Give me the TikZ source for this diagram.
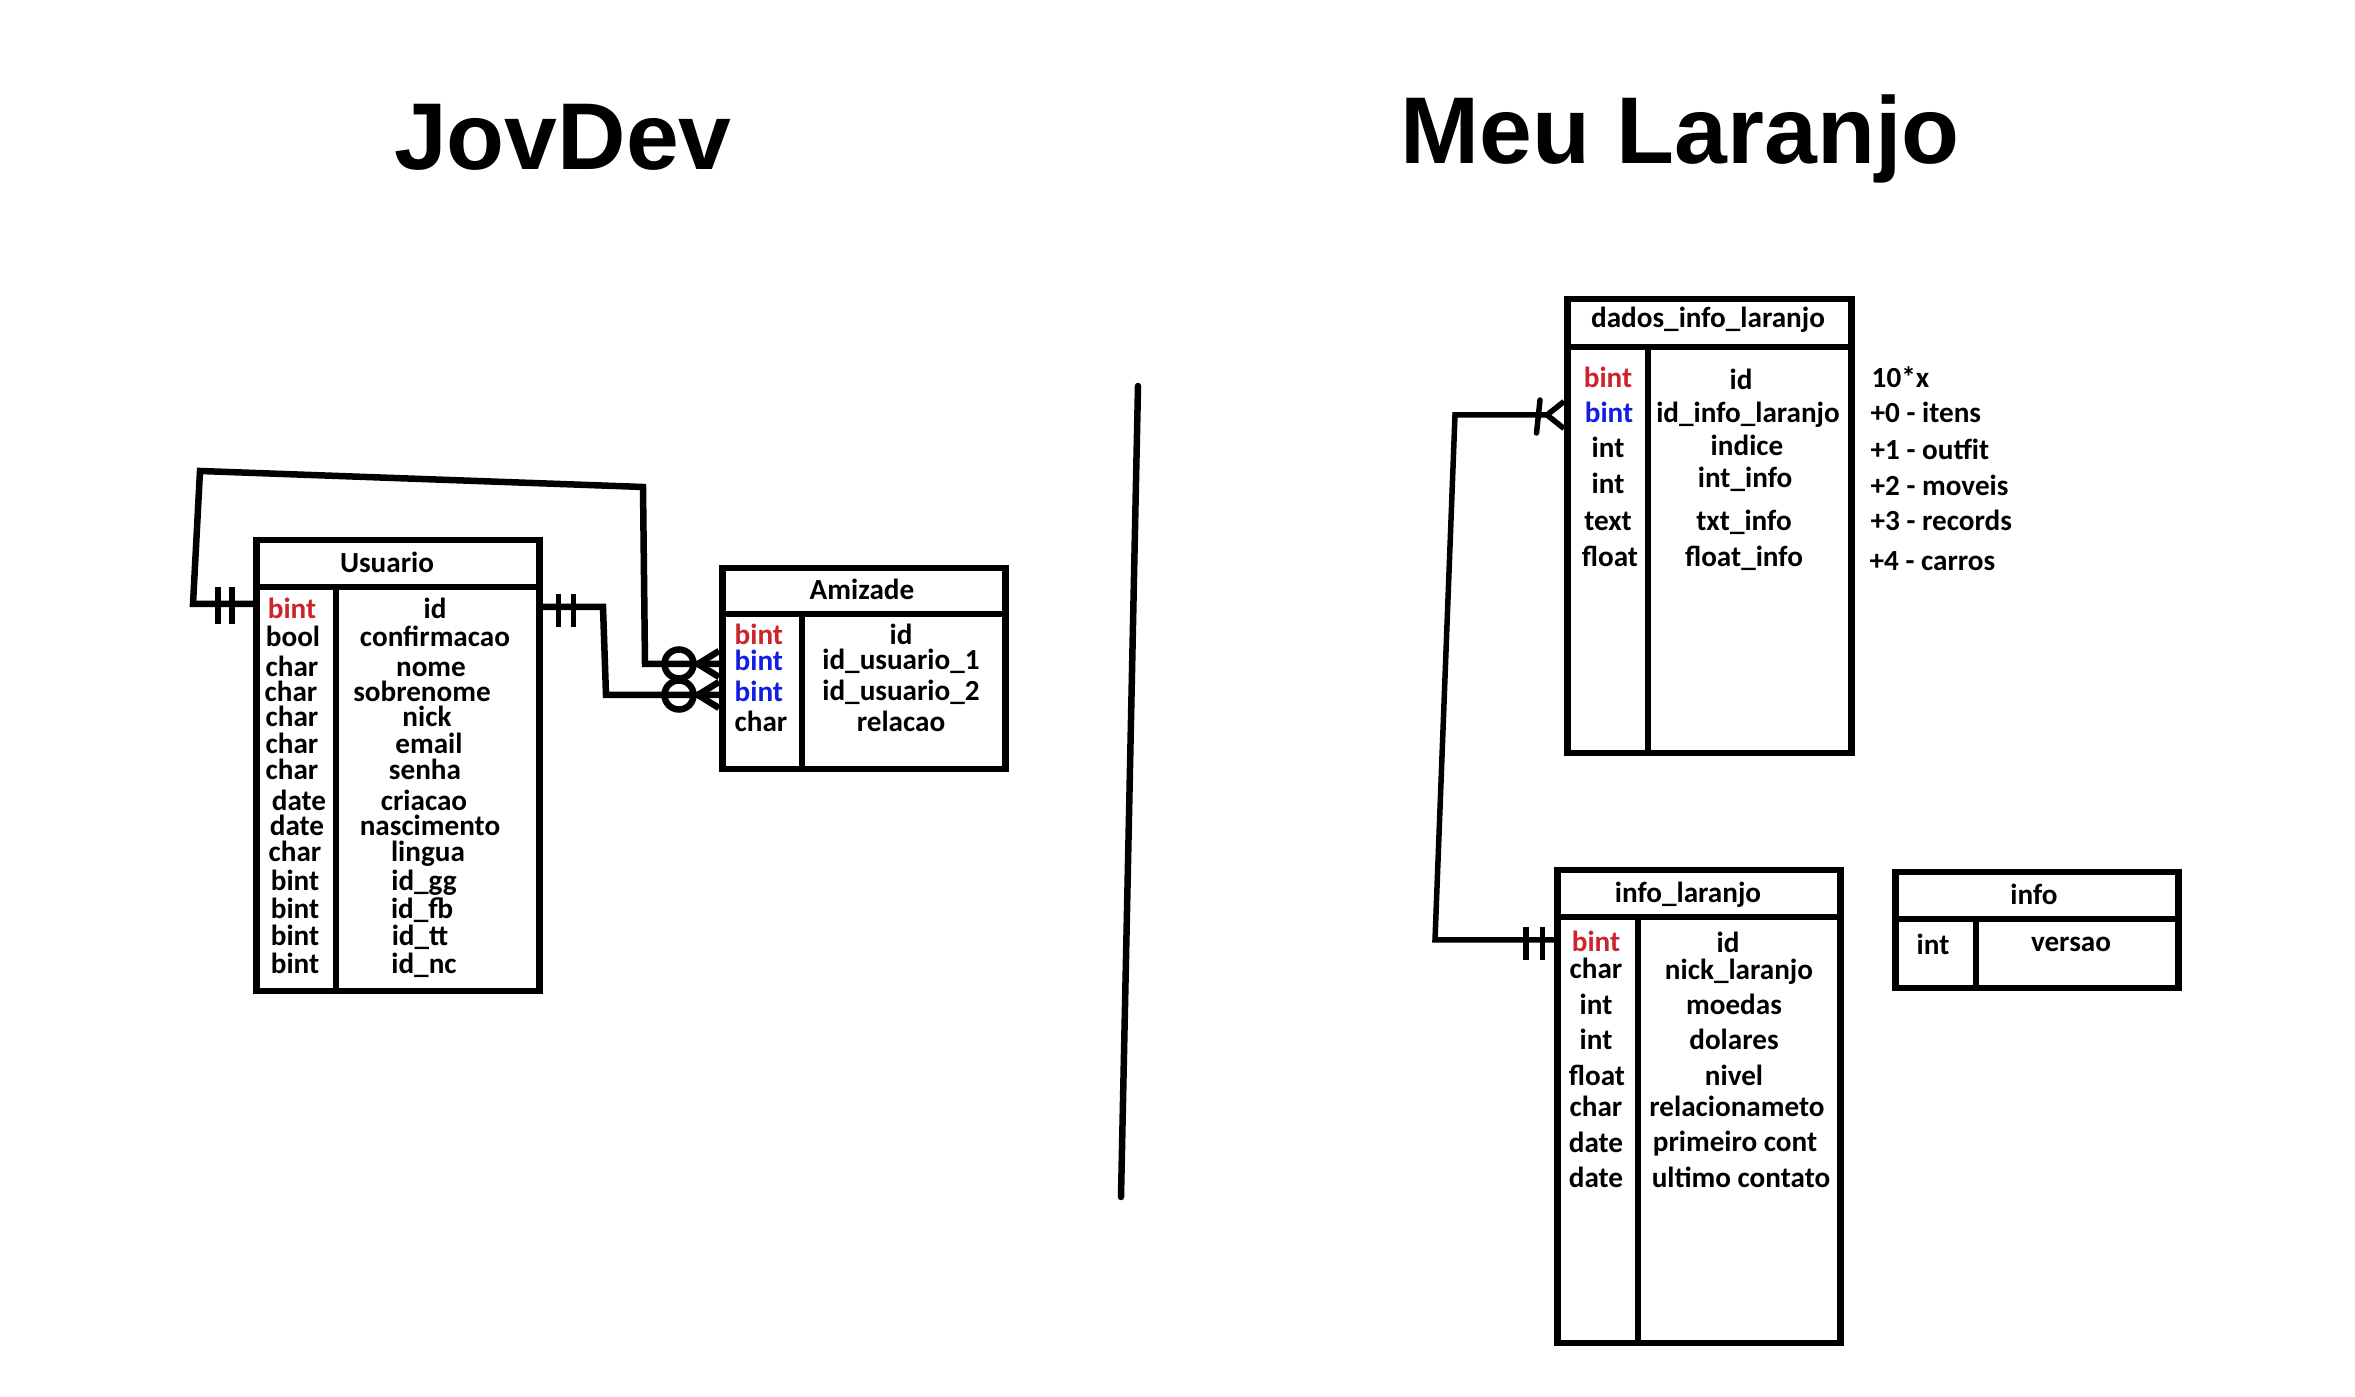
\documentclass[tikz,border=0pt]{standalone}
\usepackage{fontspec}
\setmainfont{Carlito}
\newfontfamily\fonteTitulo{Liberation Sans}
\usetikzlibrary{positioning}

\definecolor{chavePK}{RGB}{205,35,45}
\definecolor{chaveFK}{RGB}{15,30,225}

\begin{document}
\begin{tikzpicture}[
    x=0.1mm, y=-0.1mm,
    tabela/.style={draw, line width=0.65mm, inner sep=0pt, anchor=north west},
    borda/.style={line width=0.6mm},
    campo/.style={anchor=base, inner sep=0pt, font=\fontsize{8.3}{9.8}\selectfont\bfseries},
    pk/.style={campo, text=chavePK},
    fk/.style={campo, text=chaveFK},
    nota/.style={campo, anchor=base west},
    titulo/.style={anchor=base, inner sep=0pt, font=\fonteTitulo\fontsize{27}{32}\selectfont\bfseries},
    ligacao/.style={line width=0.65mm},
    traco/.style={line width=0.55mm}
  ]
    \useasboundingbox (0,0) rectangle (2355,1397);

    % titulos e divisao
    \node[titulo] (jovdev) at (563,170) {JovDev};
    \node[titulo] (meuLaranjo) at (1680,164) {Meu Laranjo};
    \coordinate (divTopo) at (1138,386);
    \coordinate (divBase) at (1121,1197);
    \draw[line width=0.65mm, line cap=round] (divTopo) -- (divBase);

    % Usuario
    \node[tabela, minimum width=28.3mm, minimum height=45.1mm] (usuario) at (253,537) {};
    \draw[borda] ([yshift=-5mm]usuario.north west) -- ([yshift=-5mm]usuario.north east);
    \draw[borda] ([xshift=8.3mm, yshift=-5mm]usuario.north west) -- ([xshift=8.3mm]usuario.south west);
    \node[campo] (usuTit) at (387,573) {Usuario};
    \node[pk] (usuT1) at (292,619) {bint};     \node[campo] (usuN1) at (435,619) {id};
    \node[campo] (usuT2) at (293,647) {bool};  \node[campo] (usuN2) at (435,647) {confirmacao};
    \node[campo] (usuT3) at (292,677) {char};  \node[campo] (usuN3) at (431,677) {nome};
    \node[campo] (usuT4) at (291,702) {char};  \node[campo] (usuN4) at (422,702) {sobrenome};
    \node[campo] (usuT5) at (292,727) {char};  \node[campo] (usuN5) at (427,727) {nick};
    \node[campo] (usuT6) at (292,754) {char};  \node[campo] (usuN6) at (429,754) {email};
    \node[campo] (usuT7) at (292,780) {char};  \node[campo] (usuN7) at (425,780) {senha};
    \node[campo] (usuT8) at (299,811) {date};  \node[campo] (usuN8) at (424,811) {criacao};
    \node[campo] (usuT9) at (297,836) {date};  \node[campo] (usuN9) at (430,836) {nascimento};
    \node[campo] (usuT10) at (295,862) {char}; \node[campo] (usuN10) at (428,862) {lingua};
    \node[campo] (usuT11) at (295,891) {bint}; \node[campo] (usuN11) at (424,891) {id\_gg};
    \node[campo] (usuT12) at (295,919) {bint}; \node[campo] (usuN12) at (422,919) {id\_fb};
    \node[campo] (usuT13) at (295,946) {bint}; \node[campo] (usuN13) at (420,946) {id\_tt};
    \node[campo] (usuT14) at (295,974) {bint}; \node[campo] (usuN14) at (424,974) {id\_nc};

    % Amizade
    \node[tabela, minimum width=28.3mm, minimum height=20.1mm] (amizade) at (719,565) {};
    \draw[borda] ([yshift=-4.9mm]amizade.north west) -- ([yshift=-4.9mm]amizade.north east);
    \draw[borda] ([xshift=8.3mm, yshift=-4.9mm]amizade.north west) -- ([xshift=8.3mm]amizade.south west);
    \node[campo] (amiTit) at (862,600) {Amizade};
    \node[pk, anchor=base west] (amiT1) at (734,645) {bint};    \node[campo] (amiN1) at (901,645) {id};
    \node[fk, anchor=base west] (amiT2) at (734,671) {bint};    \node[campo] (amiN2) at (901,670) {id\_usuario\_1};
    \node[fk, anchor=base west] (amiT3) at (734,702) {bint};    \node[campo] (amiN3) at (901,701) {id\_usuario\_2};
    \node[campo, anchor=base west] (amiT4) at (734,732) {char}; \node[campo] (amiN4) at (901,732) {relacao};

    % dados_info_laranjo
    \node[tabela, minimum width=28.4mm, minimum height=45.4mm] (dados) at (1564,296) {};
    \draw[borda] ([yshift=-5.1mm]dados.north west) -- ([yshift=-5.1mm]dados.north east);
    \draw[borda] ([xshift=8.4mm, yshift=-5.1mm]dados.north west) -- ([xshift=8.4mm]dados.south west);
    \node[campo] (dadTit) at (1708,328) {dados\_info\_laranjo};
    \node[pk] (dadT1) at (1608,388) {bint};    \node[campo] (dadN1) at (1741,390) {id};
    \node[fk] (dadT2) at (1609,423) {bint};    \node[campo] (dadN2) at (1748,423) {id\_info\_laranjo};
    \node[campo] (dadT3) at (1608,458) {int};  \node[campo] (dadN3) at (1747,456) {indice};
    \node[campo] (dadT4) at (1608,494) {int};  \node[campo] (dadN4) at (1745,488) {int\_info};
    \node[campo] (dadT5) at (1608,531) {text}; \node[campo] (dadN5) at (1744,531) {txt\_info};
    \node[campo] (dadT6) at (1610,567) {float};\node[campo] (dadN6) at (1744,567) {float\_info};
    \node[nota] (nota0) at (1871,388) {10*x};
    \node[nota] (nota1) at (1870,423) {+0 - itens};
    \node[nota] (nota2) at (1870,460) {+1 - outfit};
    \node[nota] (nota3) at (1870,496) {+2 - moveis};
    \node[nota] (nota4) at (1870,531) {+3 - records};
    \node[nota] (nota5) at (1869,571) {+4 - carros};

    % info_laranjo
    \node[tabela, minimum width=28.3mm, minimum height=47.3mm] (infoLar) at (1554,867) {};
    \draw[borda] ([yshift=-5mm]infoLar.north west) -- ([yshift=-5mm]infoLar.north east);
    \draw[borda] ([xshift=8.35mm, yshift=-5mm]infoLar.north west) -- ([xshift=8.35mm]infoLar.south west);
    \node[campo] (larTit) at (1688,903) {info\_laranjo};
    \node[pk] (larT1) at (1596,952) {bint};     \node[campo] (larN1) at (1728,953) {id};
    \node[campo] (larT2) at (1596,979) {char};  \node[campo] (larN2) at (1739,980) {nick\_laranjo};
    \node[campo] (larT3) at (1596,1015) {int};  \node[campo] (larN3) at (1734,1015) {moedas};
    \node[campo] (larT4) at (1596,1050) {int};  \node[campo] (larN4) at (1734,1050) {dolares};
    \node[campo] (larT5) at (1597,1086) {float};\node[campo] (larN5) at (1734,1086) {nivel};
    \node[campo] (larT6) at (1596,1117) {char}; \node[campo] (larN6) at (1737,1117) {relacionameto};
    \node[campo] (larT7) at (1596,1153) {date}; \node[campo] (larN7) at (1735,1152) {primeiro cont};
    \node[campo] (larT8) at (1596,1188) {date}; \node[campo] (larN8) at (1741,1188) {ultimo contato};

    % info
    \node[tabela, minimum width=28.3mm, minimum height=11.6mm] (info) at (1892,869) {};
    \draw[borda] ([yshift=-5mm]info.north west) -- ([yshift=-5mm]info.north east);
    \draw[borda] ([xshift=8.4mm, yshift=-5mm]info.north west) -- ([xshift=8.4mm]info.south west);
    \node[campo] (infTit) at (2034,905) {info};
    \node[campo] (infT1) at (1933,955) {int};
    \node[campo] (infN1) at (2071,952) {versao};

    % Usuario.id -> Amizade.id_usuario_1 (por cima)
    \coordinate (usuEsq) at ([yshift=-6.7mm]usuario.north west);
    \coordinate (lA1) at (193,604);
    \coordinate (lA2) at (200,471);
    \coordinate (lA3) at (643,487);
    \coordinate (lA4) at (645,664);
    \coordinate (amiFk1) at (amizade.west |- lA4);
    \draw[ligacao] (usuEsq) -- (lA1) -- (lA2) -- (lA3) -- (lA4) -- (amiFk1);
    \draw[traco] ([xshift=-3.5mm, yshift=1.7mm]usuEsq) -- ([xshift=-3.5mm, yshift=-2mm]usuEsq);
    \draw[traco] ([xshift=-2.1mm, yshift=1.7mm]usuEsq) -- ([xshift=-2.1mm, yshift=-2mm]usuEsq);
    \draw[ligacao] ([xshift=-4mm]amiFk1) circle[radius=1.45mm];
    \draw[ligacao] ([yshift=1.3mm]amiFk1) -- ([xshift=-2.1mm]amiFk1) -- ([yshift=-1.3mm]amiFk1);

    % Usuario.id -> Amizade.id_usuario_2
    \coordinate (usuDir) at ([yshift=-7mm]usuario.north east);
    \coordinate (lB1) at (603,607);
    \coordinate (lB2) at (606,695);
    \coordinate (amiFk2) at (amizade.west |- lB2);
    \draw[ligacao] (usuDir) -- (lB1) -- (lB2) -- (amiFk2);
    \draw[traco] ([xshift=1.6mm, yshift=1.3mm]usuDir) -- ([xshift=1.6mm, yshift=-2mm]usuDir);
    \draw[traco] ([xshift=3.1mm, yshift=1.3mm]usuDir) -- ([xshift=3.1mm, yshift=-2mm]usuDir);
    \draw[ligacao] ([xshift=-4mm]amiFk2) circle[radius=1.45mm];
    \draw[ligacao] ([yshift=1.3mm]amiFk2) -- ([xshift=-2.1mm]amiFk2) -- ([yshift=-1.3mm]amiFk2);

    % info_laranjo.id -> dados_info_laranjo.id_info_laranjo
    \coordinate (dadFk) at ([yshift=-11.9mm]dados.north west);
    \coordinate (lC1) at (1455,415);
    \coordinate (lC2) at (1435,940);
    \coordinate (larPk) at (infoLar.west |- lC2);
    \draw[traco] ([xshift=-1.7mm]dadFk) -- (lC1) -- (lC2) -- (larPk);
    \draw[traco] ([yshift=1.35mm]dadFk) -- ([xshift=-1.7mm]dadFk) -- ([yshift=-1.35mm]dadFk);
    \draw[traco, line cap=round] ([xshift=-2.4mm, yshift=1.5mm]dadFk) -- ([xshift=-2.75mm, yshift=-1.8mm]dadFk);
    \draw[traco] ([xshift=-2.8mm, yshift=1.3mm]larPk) -- ([xshift=-2.8mm, yshift=-2mm]larPk);
    \draw[traco] ([xshift=-1.15mm, yshift=1.3mm]larPk) -- ([xshift=-1.15mm, yshift=-2mm]larPk);
\end{tikzpicture}
\end{document}
